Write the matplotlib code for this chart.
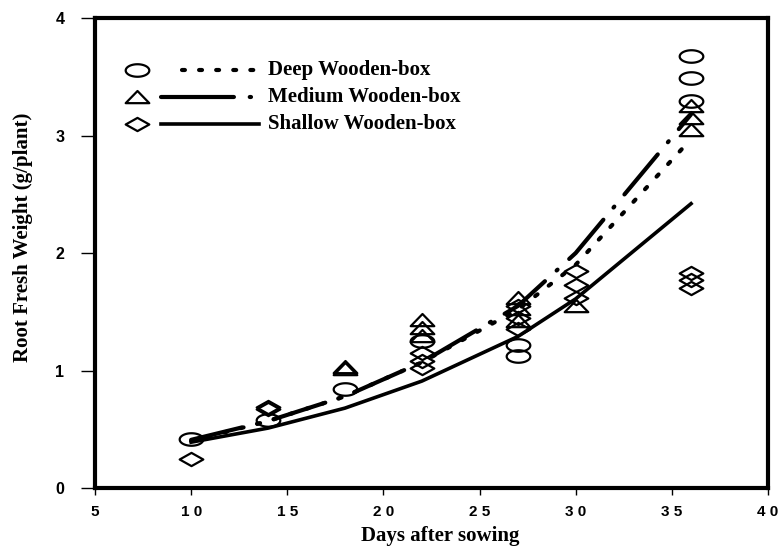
import matplotlib
matplotlib.use("Agg")
import matplotlib.pyplot as plt
from matplotlib.path import Path
import numpy as np

# ---- data ----
fit_days = [10, 14, 18, 22, 27, 30, 36]
deep_fit = [0.40, 0.57, 0.78, 1.07, 1.52, 1.90, 2.97]
medium_fit = [0.41, 0.57, 0.78, 1.07, 1.55, 2.00, 3.18]
shallow_fit = [0.39, 0.51, 0.68, 0.91, 1.29, 1.61, 2.42]

deep_days = [10, 14, 18, 22, 27, 27, 36, 36, 36]
deep_vals = [0.42, 0.58, 0.84, 1.25, 1.22, 1.12, 3.68, 3.49, 3.29]

medium_days = [18, 18, 22, 22, 22, 27, 27, 27, 30, 36, 36, 36]
medium_vals = [1.03, 1.01, 1.43, 1.36, 1.29, 1.62, 1.52, 1.42, 1.55, 3.25, 3.15, 3.05]

shallow_days = [10, 14, 14, 22, 22, 22, 27, 27, 27, 30, 30, 30, 36, 36, 36]
shallow_vals = [0.25, 0.69, 0.67, 1.15, 1.08, 1.02, 1.55, 1.45, 1.35, 1.85, 1.73, 1.62, 1.83, 1.77, 1.70]

labels = ["Deep Wooden-box", "Medium Wooden-box", "Shallow Wooden-box"]
xticks = [5, 10, 15, 20, 25, 30, 35, 40]
xtick_labels = ["5", "1 0", "1 5", "2 0", "2 5", "3 0", "3 5", "4 0"]
yticks = [0, 1, 2, 3, 4]

# ---- markers (flattened shapes) ----
t = np.linspace(0, 2 * np.pi, 60)
ellipse = Path(np.column_stack([np.cos(t), 0.53 * np.sin(t)]), closed=True)
triangle = Path([(-1, -0.48), (1, -0.48), (0, 0.55), (-1, -0.48)], closed=True)
diamond = Path([(-1, 0), (0, 0.56), (1, 0), (0, -0.56), (-1, 0)], closed=True)

fig = plt.figure(figsize=(7.78, 5.51), dpi=100)
ax = fig.add_axes([0.1221, 0.1143, 0.865, 0.853])

mk = dict(linestyle="none", markerfacecolor="none", markeredgecolor="black",
          markeredgewidth=1.6, markersize=17)
ax.plot(deep_days, deep_vals, marker=ellipse, **mk)
ax.plot(medium_days, medium_vals, marker=triangle, **mk)
ax.plot(shallow_days, shallow_vals, marker=diamond, **mk)

deep_ls = (0, (0.7, 3.4))
medium_ls = (0, (12.5, 3.8, 0.3, 3.8))
ax.plot(fit_days, deep_fit, color="black", lw=3, linestyle=deep_ls, dash_capstyle="round")
ax.plot(fit_days, medium_fit, color="black", lw=3, linestyle=medium_ls, dash_capstyle="round")
ax.plot(fit_days, shallow_fit, color="black", lw=2.6, linestyle="-")

ax.set_xlim(5, 40)
ax.set_ylim(0, 4)
ax.set_xticks(xticks)
ax.set_xticklabels(xtick_labels, fontfamily="Liberation Sans", fontweight="bold", fontsize=11)
ax.set_yticks(yticks)
ax.set_yticklabels([str(v) for v in yticks], fontfamily="Liberation Sans", fontweight="bold", fontsize=11.5)
ax.tick_params(axis="y", direction="out", length=10, width=1, pad=12)
ax.tick_params(axis="x", direction="out", length=5, width=1, pad=7)
for s in ax.spines.values():
    s.set_linewidth(3)

ax.set_xlabel("Days after sowing", fontfamily="Liberation Serif", fontweight="bold", fontsize=15)
ax.set_ylabel("Root Fresh Weight (g/plant)", fontfamily="Liberation Serif", fontweight="bold", fontsize=15)
ax.xaxis.set_label_coords(0.513, -0.081)
ax.yaxis.set_label_coords(-0.092, 0.534)

# ---- legend (manual) ----
leg_y = [0.889, 0.832, 0.774]
leg_markers = [ellipse, triangle, diamond]
leg_styles = [((0, (0.7, 3.4)), 3), ((0, (17.5, 3.8, 0.3, 3.8)), 3), ("-", 2.6)]
leg_x0 = [0.13, 0.098, 0.098]
for yy, x0, m, (ls, lw), lab in zip(leg_y, leg_x0, leg_markers, leg_styles, labels):
    ax.plot([0.063], [yy], transform=ax.transAxes, marker=m, **mk)
    ax.plot([x0, 0.243], [yy, yy], transform=ax.transAxes, color="black",
            lw=lw, linestyle=ls, dash_capstyle="round")
    ax.text(0.257, yy, lab, transform=ax.transAxes, va="center", ha="left",
            fontfamily="Liberation Serif", fontweight="bold", fontsize=15)

fig.savefig("out.png", dpi=100)
